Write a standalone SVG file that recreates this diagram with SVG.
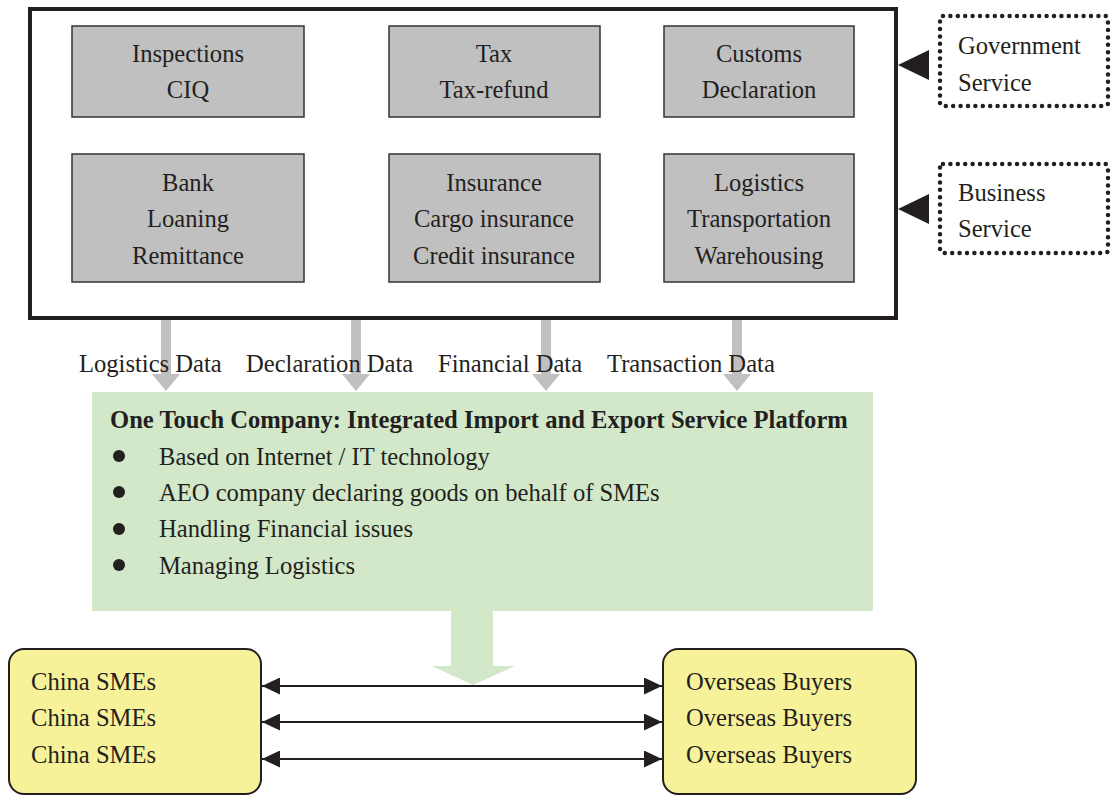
<svg xmlns="http://www.w3.org/2000/svg" width="1115" height="795" viewBox="0 0 1115 795">
<style>
text{font-family:"Liberation Serif","Times New Roman",serif;font-size:24.6px;fill:#231f20}
.c{text-anchor:middle}
.b{font-weight:bold}
.inner{fill:#c0c0c0;stroke:#333;stroke-width:1.5}
.dot{fill:none;stroke:#231f20;stroke-width:4.5;stroke-dasharray:0 7.4;stroke-linecap:round}
.gray{fill:#c0c0c0}
.green{fill:#d2e8c9}
.yellow{fill:#f7f29a;stroke:#231f20;stroke-width:2}
.link{stroke:#231f20;stroke-width:2;fill:none}
</style>
<defs>
<marker id="ah" viewBox="0 0 10 10" refX="10" refY="5" markerWidth="18" markerHeight="17" markerUnits="userSpaceOnUse" orient="auto-start-reverse" preserveAspectRatio="none">
<path d="M0,0 L10,5 L0,10 Z" fill="#231f20"/>
</marker>
</defs>
<rect width="1115" height="795" fill="#fff"/>

<g id="platform-services">
<rect x="30" y="9" width="866" height="309" fill="#fff" stroke="#231f20" stroke-width="4"/>
</g>
<g id="inspections"><rect class="inner" x="72" y="26" width="232" height="91"/><text class="c" x="188" y="62">Inspections</text><text class="c" x="188" y="98">CIQ</text></g>
<g id="tax"><rect class="inner" x="389" y="26" width="211" height="91"/><text class="c" x="494" y="62">Tax</text><text class="c" x="494" y="98">Tax-refund</text></g>
<g id="customs"><rect class="inner" x="664" y="26" width="190" height="91"/><text class="c" x="759" y="62">Customs</text><text class="c" x="759" y="98">Declaration</text></g>
<g id="bank"><rect class="inner" x="72" y="154" width="232" height="128"/><text class="c" x="188" y="191">Bank</text><text class="c" x="188" y="227">Loaning</text><text class="c" x="188" y="264">Remittance</text></g>
<g id="insurance"><rect class="inner" x="389" y="154" width="211" height="128"/><text class="c" x="494" y="191">Insurance</text><text class="c" x="494" y="227">Cargo insurance</text><text class="c" x="494" y="264">Credit insurance</text></g>
<g id="logistics"><rect class="inner" x="664" y="154" width="190" height="128"/><text class="c" x="759" y="191">Logistics</text><text class="c" x="759" y="227">Transportation</text><text class="c" x="759" y="264">Warehousing</text></g>

<g id="government-service"><rect class="dot" x="940" y="16" width="168" height="90" rx="3"/><text x="958" y="54">Government</text><text x="958" y="91">Service</text></g>
<g id="business-service"><rect class="dot" x="940" y="164" width="168" height="89" rx="3"/><text x="958" y="201">Business</text><text x="958" y="237">Service</text></g>

<g id="connectors">
<path d="M898,65 L929,50 L929,80 Z" fill="#231f20"/>
<path d="M898,209 L929,194 L929,224 Z" fill="#231f20"/>
<path class="gray" d="M161,320 H171 V374 H180 L166,391 L152,374 H161 Z"/>
<path class="gray" d="M351,320 H361 V374 H370 L356,391 L342,374 H351 Z"/>
<path class="gray" d="M541,320 H551 V374 H560 L546,391 L532,374 H541 Z"/>
<path class="gray" d="M732,320 H742 V374 H751 L737,391 L723,374 H732 Z"/>
<path class="green" d="M451,611 H493 V666 H515 L473,685 L432,666 H451 Z"/>
<line class="link" x1="262" y1="686" x2="662" y2="686" marker-start="url(#ah)" marker-end="url(#ah)"/>
<line class="link" x1="262" y1="722" x2="662" y2="722" marker-start="url(#ah)" marker-end="url(#ah)"/>
<line class="link" x1="262" y1="759" x2="662" y2="759" marker-start="url(#ah)" marker-end="url(#ah)"/>
</g>

<g id="data-labels">
<text x="79" y="372">Logistics Data</text>
<text x="246" y="372">Declaration Data</text>
<text x="438" y="372">Financial Data</text>
<text x="607" y="372">Transaction Data</text>
</g>

<g id="one-touch">
<rect class="green" x="92" y="392" width="781" height="219"/>
<text class="b" x="110" y="428" font-size="23.6">One Touch Company: Integrated Import and Export Service Platform</text>
<circle cx="119" cy="456" r="6" fill="#231f20"/>
<circle cx="119" cy="492" r="6" fill="#231f20"/>
<circle cx="119" cy="529" r="6" fill="#231f20"/>
<circle cx="119" cy="565" r="6" fill="#231f20"/>
<text x="159" y="465">Based on Internet / IT technology</text>
<text x="159" y="501">AEO company declaring goods on behalf of SMEs</text>
<text x="159" y="537">Handling Financial issues</text>
<text x="159" y="574">Managing Logistics</text>
</g>

<g id="china-smes"><rect class="yellow" x="9" y="649" width="252" height="145" rx="15"/><text x="31" y="690">China SMEs</text><text x="31" y="726">China SMEs</text><text x="31" y="763">China SMEs</text></g>
<g id="overseas-buyers"><rect class="yellow" x="663" y="649" width="253" height="145" rx="15"/><text x="686" y="690">Overseas Buyers</text><text x="686" y="726">Overseas Buyers</text><text x="686" y="763">Overseas Buyers</text></g>
</svg>
